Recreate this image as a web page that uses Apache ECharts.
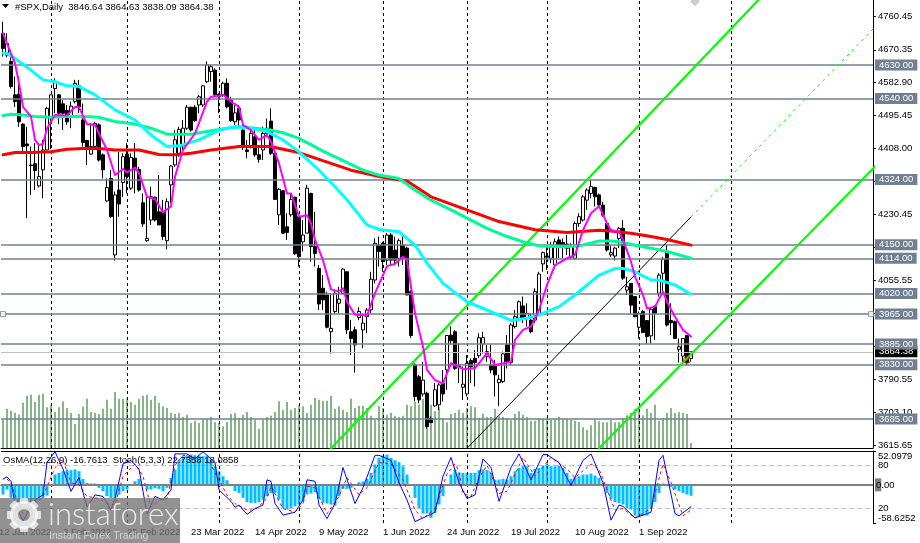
<!DOCTYPE html>
<html><head><meta charset="utf-8">
<style>html,body{margin:0;padding:0;background:#fff}#c{width:920px;height:543px}</style>
<script src="https://cdn.jsdelivr.net/npm/echarts@6/dist/echarts.min.js"></script>
</head><body><div id="c"></div>
<script>
const opens=[4714,4656,4639,4550,4552,4472,4419,4363,4366,4307,
4350,4403,4492,4567,4550,4526,4508,4492,4532,4574,
4483,4428,4392,4412,4470,4390,4267,4327,4123,4296,
4316,4392,4301,4381,4351,4262,4161,4216,4277,4238,
4238,4161,4310,4363,4394,4414,4461,4517,4517,4523,
4523,4585,4612,4616,4551,4550,4581,4536,4478,4514,
4456,4403,4414,4438,4390,4403,4447,4480,4394,4230,
4294,4198,4230,4277,4225,
4158,4181,4287,4145,4087,4034,4016,3918,3972,3994,
4020,4078,3918,3923,3956,3923,3958,3976,4056,4149,
4154,4109,4176,4136,4114,4149,4141,4025,3829,3798,
3752,3754,3687,3720,3723,3781,3816,3909,3918,3829,
3770,3752,3841,3847,3854,3885,3852,3829,3829,3782,
3785,3883,3836,3932,3954,3987,3954,3949,3949,3965,
4099,4120,4114,4096,4163,4156,4152,4117,4114,4207,
4216,4269,4287,4303,4283,
4256,4207,4123,4120,4167,4194,4029,4047,4012,3930,
3972,3948,3907,3985,4021,4074,4132,3948,3945,3871,
3853,3908,3846.64];
const closes=[4674,4687,4572,4532,4478,4412,4414,4361,4348,4332,
4403,4514,4550,4585,4501,4501,4478,4520,4581,4518,
4423,4407,4412,4474,4376,4350,4303,4225,4283,4259,
4385,4332,4383,4350,4296,4206,4167,4278,4216,4203,
4172,4265,4360,4430,4458,4461,4517,4456,4481,4545,
4574,4630,4625,4550,4545,4581,4518,4481,4502,4483,
4414,4399,4447,4390,4378,4447,4461,4394,4271,4298,
4181,4183,4271,4126,4118,
4176,4301,4145,4127,3992,4003,3930,3927,4021,4005,
4085,3923,3900,3883,3972,3941,3976,4058,4154,4132,
4105,4176,4109,4109,4161,4114,4016,3908,3745,3736,
3789,3665,3676,3763,3776,3752,3908,3894,3820,3825,
3778,3834,3825,3836,3902,3902,3865,3816,3803,3791,
3859,3838,3936,3958,3998,3954,3967,3918,4025,4072,
4129,4117,4145,4158,4143,4143,4141,4149,4207,4225,
4278,4296,4305,4278,4256,
4229,4136,4129,4141,4194,4061,4038,3989,3958,3967,
3916,3905,3978,3967,4069,4111,3936,3942,3900,3878,
3900,3836,3864.38];
const highs=[4745,4714,4670,4599,4599,4474,4465,4412,4421,4421,
4430,4518,4551,4594,4552,4536,4523,4532,4590,4590,
4527,4430,4474,4478,4474,4394,4327,4350,4292,4398,
4394,4421,4394,4421,4358,4287,4278,4305,4278,4336,
4270,4274,4363,4456,4465,4483,4523,4518,4523,4550,
4576,4639,4630,4621,4554,4585,4594,4545,4523,4523,
4474,4430,4461,4465,4412,4465,4487,4514,4403,4301,
4296,4234,4287,4278,4225,
4216,4310,4289,4238,4096,4069,4025,4021,4030,4038,
4087,4078,3949,3932,3983,3963,3981,4078,4167,4172,
4158,4181,4181,4172,4167,4176,4145,4029,3834,3803,
3838,3758,3692,3781,3781,3816,3909,3932,3923,3887,
3825,3856,3847,3869,3914,3918,3883,3883,3843,3803,
3865,3909,3941,3976,4001,4012,3994,3967,4034,4078,
4132,4145,4158,4167,4172,4167,4176,4154,4212,4234,
4283,4301,4323,4305,4287,
4265,4216,4149,4145,4198,4216,4065,4047,4013,3972,
3976,3949,3981,3989,4074,4118,4149,3994,3948,3900,
3900,3909,3864.63];
const lows=[4652,4650,4567,4518,4465,4394,4221,4283,4296,4303,
4274,4403,4405,4501,4472,4456,4470,4461,4527,4501,
4412,4363,4390,4407,4372,4327,4265,4221,4108,4225,
4278,4287,4296,4287,4292,4198,4158,4203,4212,4203,
4163,4138,4261,4358,4385,4403,4456,4452,4478,4501,
4518,4581,4585,4545,4501,4545,4514,4478,4470,4465,
4403,4381,4407,4385,4369,4376,4438,4390,4270,4203,
4179,4163,4225,4123,4092,
4132,4181,4105,4092,3976,3976,3927,3860,3967,3967,
4019,3912,3856,3809,3949,3874,3914,3967,4047,4092,
4078,4096,4096,4096,4092,4096,4016,3901,3732,3727,
3745,3660,3674,3718,3709,3732,3763,3883,3816,3781,
3736,3745,3781,3772,3847,3860,3838,3807,3745,3720,
3781,3820,3829,3927,3949,3941,3932,3914,3941,3963,
4078,4083,4101,4087,4114,4114,4123,4111,4111,4198,
4212,4243,4274,4252,4252,
4225,4132,4118,4108,4141,4056,4016,3963,3958,3900,
3914,3885,3887,3896,4012,4025,3932,3909,3900,3836,
3834,3829,3838.09];
const volumes=[85,118,112,106,100,135,157,160,138,160,163,122,130,108,122,140,120,105,72,102,124,148,108,105,102,118,145,118,168,148,148,148,138,130,148,157,160,145,157,135,125,120,105,102,105,93,100,75,82,75,87,87,93,78,75,65,78,102,105,90,100,108,93,85,58,85,93,97,108,140,115,138,115,120,130,125,105,130,150,145,142,142,157,118,125,115,108,
148,120,127,127,120,97,85,125,120,100,105,97,93,97,130,125,138,130,148,145,130,110,122,90,77,102,105,115,105,120,125,122,90,103,93,93,118,95,93,90,83,102,110,100,93,82,82,90,87,90,85,85,93,87,87,85,82,78,62,55,68,85,80,77,77,85,77,77,90,98,105,118,125,98,118,105,130,82,90,105,120,105,107,105,102,15];
const osma=[-14.9,-7.2,-20,-22.6,-27.7,-30.2,-30.2,-27.7,-27.7,-22.6,-20,-16.4,0,15.9,18.5,21,23.6,22.6,23.6,21,9.2,3.1,2.1,2.1,-4.6,-9.7,-17.4,-20,-20,-14.9,-9.7,-7.2,1.5,5.6,9.2,.5,-7.2,-7.2,-5.1,-6.2,-9.7,-4.6,10.8,23.6,39,44.1,45.6,46.6,45.6,45.1,44.1,45.1,39,28.7,21,13.3,7.2,-2.1,-9.7,-12.3,-20,-26.7,-27.7,-27.7,-26.7,-22.6,-17.4,-12.3,-12.3,-22.6,-35.4,-37.9,-35.4,-32.8,-30.2,-25.1,-14.9,-13.3,-11.3,-21.5,-27.7,-28.7,-30.2,-31.8,-17.4,-6.2,-6.2,-4.6,.5,4.1,5.1,9.2,18.5,31.3,41.5,45.1,46.6,41.5,37.9,34.9,28.7,15.9,-1,-20,-35.4,-44.1,-44.1,-50.7,-43.1,-30.2,-17.4,.5,15.9,23.6,18.5,
18.5,18.5,18.5,18.5,22.6,23.6,22.6,18.5,8.2,8.2,9.2,8.2,13.3,21,26.1,28.7,28.7,18.5,24.6,26.1,29.7,32.8,28.7,28.7,29.7,26.1,18.5,9.2,12.3,13.3,15.9,15.9,17.4,14.4,10.8,3.1,-12.3,-21.5,-26.7,-27.7,-30.2,-35.4,-37.9,-47.2,-48.2,-47.2,-47.2,-35.4,-26.7,-12.3,2.1,-2.1,-3.1,-7.2,-9.7,-12.3,-14.9,-16.76];
const magentaMA=[[0,4714],[1,4687],[3,4634],[4,4581],[5,4518],[7,4492],[8,4430],[9,4416],[10,4419],[11,4461],[13,4496],[16,4495],[18,4518],[19,4517],[21,4472],[23,4470],[24,4447],[26,4403],[28,4336],[30,4352],[31,4343],[33,4356],[34,4341],[36,4278],[38,4272],[40,4237],[42,4252],[43,4332],[45,4403],[48,4447],[51,4532],[52,4545],[54,4547],[55,4551],[57,4532],[59,4518],[60,4470],[62,4456],[64,4430],[66,4443],[67,4425],[69,4367],[71,4287],[72,4287],[74,4225],[76,4229],[77,4207],[78,4163],[80,4109],[82,4031],[84,4025],[85,4034],[86,3998],[88,3963],[91,3961],[93,4021],[96,4093],[98,4099],[100,4118],[101,4109],[102,4038],[103,3967],[105,3878],[106,3816],[108,3789],[110,3780],[111,3807],[112,3834],[115,3818],[118,3821],[121,3861],[123,3829],[127,3838],[128,3896],[130,3923],[132,3932],[134,3976],[136,4043],[138,4096],[141,4114],[143,4123],[145,4189],[147,4234],[149,4253],[151,4207],[152,4189],[154,4185],[155,4163],[157,4105],[158,4065],[160,4016],[161,3980],[163,3985],[165,4025],[166,3998],[168,3958],[170,3923],[172,3905]];
const cyanMA=[[0,4661],[1,4661],[3,4647],[7,4616],[10,4590],[13,4585],[16,4574],[19,4572],[23,4550],[28,4510],[33,4483],[37,4443],[41,4412],[44,4414],[49,4430],[54,4456],[58,4465],[62,4461],[66,4452],[70,4430],[74,4398],[79,4349],[83,4305],[86,4270],[91,4203],[94,4191],[99,4185],[103,4149],[106,4101],[110,4047],[116,3998],[121,3976],[127,3948],[131,3954],[134,3963],[139,3985],[143,4016],[149,4069],[151,4078],[153,4087],[155,4087],[158,4078],[162,4056],[164,4056],[168,4043],[172,4018]];
const greenMA=[[0,4495],[2,4498],[5,4496],[8,4492],[12,4490],[16,4492],[20,4492],[24,4490],[28,4479],[33,4472],[37,4461],[41,4445],[47,4445],[51,4452],[56,4461],[59,4465],[63,4461],[67,4456],[70,4449],[74,4434],[80,4400],[90,4349],[94,4336],[99,4327],[103,4296],[107,4269],[112,4243],[116,4221],[121,4194],[126,4172],[130,4158],[134,4147],[140,4145],[144,4147],[149,4160],[152,4160],[154,4158],[158,4149],[162,4141],[166,4132],[172,4114]];
const redMA=[[0,4390],[3,4396],[7,4396],[12,4398],[16,4405],[20,4407],[24,4407],[28,4403],[34,4403],[39,4391],[43,4390],[47,4394],[52,4403],[59,4412],[67,4412],[70,4405],[74,4396],[87,4349],[95,4330],[101,4320],[107,4278],[116,4243],[124,4212],[133,4190],[141,4183],[149,4189],[152,4187],[157,4181],[162,4172],[166,4164],[172,4149]];
const stochMain=[[0,61],[1,64],[2,58],[3,27],[5,3],[8,32],[10,39],[11,84],[13,99],[15,75],[17,44],[19,63],[21,22],[23,39],[25,37],[27,18],[28,34],[30,82],[32,87],[34,75],[36,13],[38,37],[40,32],[42,46],[43,96],[46,96],[48,89],[50,99],[53,84],[54,46],[57,30],[58,22],[59,25],[61,12],[63,20],[65,25],[66,60],[67,58],[68,27],[70,11],[73,15],[75,32],[76,60],[78,58],[79,25],[81,6],[83,27],[85,77],[88,27],[90,49],[93,94],[94,94],[97,87],[99,56],[101,32],[103,2],[105,7],[108,15],[110,65],[112,91],[114,56],[116,34],[118,39],[120,89],[122,77],[124,30],[127,77],[129,96],[132,60],[135,95],[136,95],[139,84],[142,52],[145,87],[147,96],[150,56],[152,4],[154,25],[155,23],[158,7],[159,9],[162,15],[164,87],[165,94],[168,13],[169,10],[172,22.7]];
const stochSignal=[[1,61],[2,56],[3,39],[5,13],[8,22],[10,37],[13,77],[15,87],[17,56],[19,53],[21,37],[24,34],[26,27],[28,25],[30,65],[33,82],[35,65],[37,22],[39,32],[41,34],[43,80],[45,94],[48,91],[51,91],[53,70],[56,39],[58,27],[61,18],[63,18],[66,34],[67,51],[70,20],[73,15],[75,27],[76,51],[78,49],[81,13],[84,37],[86,63],[89,39],[91,49],[94,84],[97,82],[100,60],[103,18],[105,6],[108,20],[111,68],[113,82],[114,72],[115,41],[117,37],[119,63],[121,80],[124,41],[126,44],[130,91],[133,65],[137,91],[141,75],[143,63],[147,82],[149,75],[153,18],[155,20],[158,7],[162,20],[165,82],[167,56],[170,10],[172,18.09]];
const channelUpper=[[82,3607],[190,4816]];
const channelLower=[[149,3607],[218,4359]];
const channelMiddleSolid=[[116,3607],[172,4224]];
const channelMiddleDash=[[172,4224],[218,4731]];
const levels=[4630,4540,4324,4150,4114,4020,3965,3885,3830,3685];
const lastPrice=3864.38;
const priceTicks=[4760.45,4670.35,4582.90,4495.45,4408.00,4320.55,4230.45,4143.00,4055.55,3968.10,3878.10,3790.55,3703.10,3615.65];
const separators=[12,31,54,74,95,116,136,159,182];
const dateLabels=[[15,'3 Feb 2022'],[31,'25 Feb 2022'],[47,'23 Mar 2022'],[63,'14 Apr 2022'],[79,'9 May 2022'],[95,'1 Jun 2022'],[111,'24 Jun 2022'],[127,'19 Jul 2022'],[143,'10 Aug 2022'],[159,'1 Sep 2022']];
const SLOTS=218;

const FONT='"Liberation Sans",Arial,sans-serif';
const FS=9.5;
const slate='#708090';
const cats=Array.from({length:SLOTS},(_,i)=>{const d=dateLabels.find(x=>x[0]===i);return d?d[1]:'';});
const candle=opens.map((o,i)=>[o,closes[i],lows[i],highs[i]]);
const ix=v=>v.map((y,i)=>[i,y]);
const hidden={show:false};
function ln(data,color,width,x,y,extra){return Object.assign({type:'line',data,xAxisIndex:x,yAxisIndex:y,symbol:'none',silent:true,
  lineStyle:{color,width,cap:'round',join:'round'},z:5},extra||{});}
const vline=v=>({xAxis:v,lineStyle:{color:'#000',type:[3,3],width:1},label:{show:false}});

const gw=[];
const cx=24,cy=515;
for(let k=0;k<8;k++){const a=k*Math.PI/4;gw.push({type:'rect',shape:{x:-3,y:-4,width:6,height:8,r:1},
  x:cx+Math.cos(a)*14,y:cy+Math.sin(a)*14,rotation:-a,style:{fill:'rgba(255,255,255,.72)'},z:20});}

const chart=echarts.init(document.getElementById('c'),null,{renderer:'canvas'});
chart.setOption({
 animation:false,backgroundColor:'#fff',
 textStyle:{fontFamily:FONT},
 title:[
  {text:'#SPX,Daily  3846.64 3864.63 3838.09 3864.38',left:15,top:2,padding:0,textStyle:{fontSize:FS,fontWeight:'normal',color:'#000',fontFamily:FONT}},
  {text:'OsMA(12,26,9) -16.7613  Stoch(5,3,3) 22.7358 18.0858',left:3,top:455,padding:0,textStyle:{fontSize:FS,fontWeight:'normal',color:'#000',fontFamily:FONT}}
 ],
 grid:[{left:1,top:0,width:872,height:448},{left:1,top:451,width:872,height:72}],
 xAxis:[
  {type:'category',gridIndex:0,data:cats,boundaryGap:true,axisLine:{show:true,lineStyle:{color:'#000',width:1}},axisTick:hidden,axisLabel:hidden,splitLine:hidden},
  {type:'category',gridIndex:1,data:cats,boundaryGap:true,axisLine:{show:true,lineStyle:{color:'#000',width:1}},axisTick:hidden,splitLine:hidden,
   axisLabel:{show:true,interval:i=>cats[i]!=='',align:'left',margin:4,fontSize:FS,color:'#000',fontFamily:FONT,hideOverlap:false}}
 ],
 yAxis:[
  {type:'value',gridIndex:0,position:'right',min:3607.8,max:4803.1,scale:true,splitLine:hidden,
   axisLine:{show:true,lineStyle:{color:'#000'}},axisTick:{show:true,length:3,lineStyle:{color:'#000'},customValues:priceTicks},
   axisLabel:{show:true,margin:5,fontSize:FS,color:'#000',fontFamily:FONT,customValues:priceTicks,formatter:v=>v.toFixed(2)}},
  {type:'value',gridIndex:0,min:0,max:1344,show:false,splitLine:hidden},
  {type:'value',gridIndex:1,position:'right',min:-58.6252,max:52.0979,splitLine:hidden,
   axisLine:{show:true,lineStyle:{color:'#000'}},axisTick:{show:true,length:3,lineStyle:{color:'#000'},customValues:[52.0979,-58.6252]},
   axisLabel:{show:true,margin:5,fontSize:FS,color:'#000',fontFamily:FONT,customValues:[52.0979,-58.6252],verticalAlignMaxLabel:'bottom',verticalAlignMinLabel:'top',formatter:v=>v.toFixed(4)}},
  {type:'value',gridIndex:1,position:'right',min:0,max:100,splitLine:hidden,axisLine:hidden,axisTick:hidden,
   axisLabel:{show:true,margin:5,fontSize:FS,color:'#000',fontFamily:FONT,customValues:[80,20]}}
 ],
 series:[
  {type:'bar',name:'Volume',data:ix(volumes),xAxisIndex:0,yAxisIndex:1,barWidth:1,silent:true,itemStyle:{color:'#0f6f12'},z:1,
   markLine:{silent:true,symbol:'none',z:2,animation:false,data:separators.map(vline)}},
  {type:'candlestick',name:'#SPX',data:candle,xAxisIndex:0,yAxisIndex:0,barWidth:3,silent:true,z:3,
   itemStyle:{color:'#fff',color0:'#000',borderColor:'#000',borderColor0:'#000',borderWidth:1},
   markLine:{silent:true,symbol:'none',z:4,animation:false,precision:2,
    lineStyle:{color:slate,width:1.5,type:'solid'},
    label:{position:'end',distance:2,formatter:p=>p.value.toFixed(2),color:'#fff',backgroundColor:slate,padding:[1,4,0,4],fontSize:FS,fontFamily:FONT},
    data:[{yAxis:lastPrice,lineStyle:{color:'#c0c0c0',width:1},label:{backgroundColor:'#000',color:'#fff'}}].concat(levels.map(v=>({yAxis:v})))}},
  ln(channelUpper,'#00ff00',2.2,0,0),
  ln(channelLower,'#00ff00',2.2,0,0),
  ln(channelMiddleSolid,'#000',1,0,0),
  ln(channelMiddleDash,'#00ff00',1,0,0,{lineStyle:{color:'#00ff00',width:1,type:[3,4]}}),
  ln(redMA,'#ff0000',3,0,0),
  ln(greenMA,'#00fa9a',3,0,0),
  ln(cyanMA,'#00ffff',3,0,0),
  ln(magentaMA,'#ff00ff',2,0,0),
  {type:'scatter',data:[[0,3965],[217,3965]],xAxisIndex:0,yAxisIndex:0,symbol:'rect',symbolSize:5,silent:true,z:7,itemStyle:{color:'#fff',borderColor:slate,borderWidth:1}},
  {type:'scatter',data:[[173,4800]],xAxisIndex:0,yAxisIndex:0,symbol:'diamond',symbolSize:10,silent:true,z:7,itemStyle:{color:'#c0c0c0'}},
  {type:'scatter',data:[[171,3843]],xAxisIndex:0,yAxisIndex:0,symbol:'circle',symbolSize:7,silent:true,z:7,itemStyle:{color:'transparent',borderColor:'#ff0000',borderWidth:1}},
  {type:'bar',name:'OsMA',data:ix(osma),xAxisIndex:1,yAxisIndex:2,barWidth:3,silent:true,itemStyle:{color:'#00bfff'},z:2,
   markLine:{silent:true,symbol:'none',z:3,animation:false,data:separators.map(vline).concat([
    {yAxis:0,lineStyle:{color:'#808080',width:2,type:'solid'},label:{show:true,position:'end',distance:2,formatter:'{a|0}{b|.00}',rich:{a:{backgroundColor:'#808080',color:'#000',fontSize:FS,fontFamily:FONT,padding:[2,0,1,1]},b:{color:'#000',fontSize:FS,fontFamily:FONT}}}}])}},
  ln(stochSignal,'#ff0000',1,1,3,{lineStyle:{color:'#ff0000',width:1,type:[3,3]},z:6}),
  ln(stochMain,'#0000ff',1,1,3,{z:7,markLine:{silent:true,symbol:'none',z:2,animation:false,data:[
    {yAxis:80,lineStyle:{color:'#c0c0c0',width:1,type:[5,3]},label:{show:false}},
    {yAxis:20,lineStyle:{color:'#c0c0c0',width:1,type:[5,3]},label:{show:false}},
    {yAxis:100,lineStyle:{color:'#000',width:1,type:'solid'},label:{show:false}}]}})
 ],
 graphic:[
  {type:'polygon',shape:{points:[[2,4],[9,4],[5.5,8]]},style:{fill:'#000'},z:8},
  {type:'text',x:-1,y:527,z:1,style:{text:'12 Jan 2022',fontSize:FS,fontFamily:FONT,fill:'#000'}},
  {type:'rect',shape:{x:0,y:498,width:180,height:45},style:{fill:'rgba(115,115,115,.78)'},z:19},
  ...gw,
  {type:'ring',shape:{cx:cx,cy:cy,r:14,r0:6},style:{fill:'rgba(255,255,255,.72)'},z:20},
  {type:'text',x:48,y:499,z:21,style:{text:'instaforex',fontSize:31,fontFamily:'Lato,"Open Sans",sans-serif',fontWeight:300,fill:'rgba(255,255,255,.82)'}},
  {type:'text',x:49,y:531,z:21,style:{text:'Instant Forex Trading',fontSize:10.5,fontFamily:FONT,fill:'rgba(255,255,255,.6)'}}
 ]
});
</script></body></html>
